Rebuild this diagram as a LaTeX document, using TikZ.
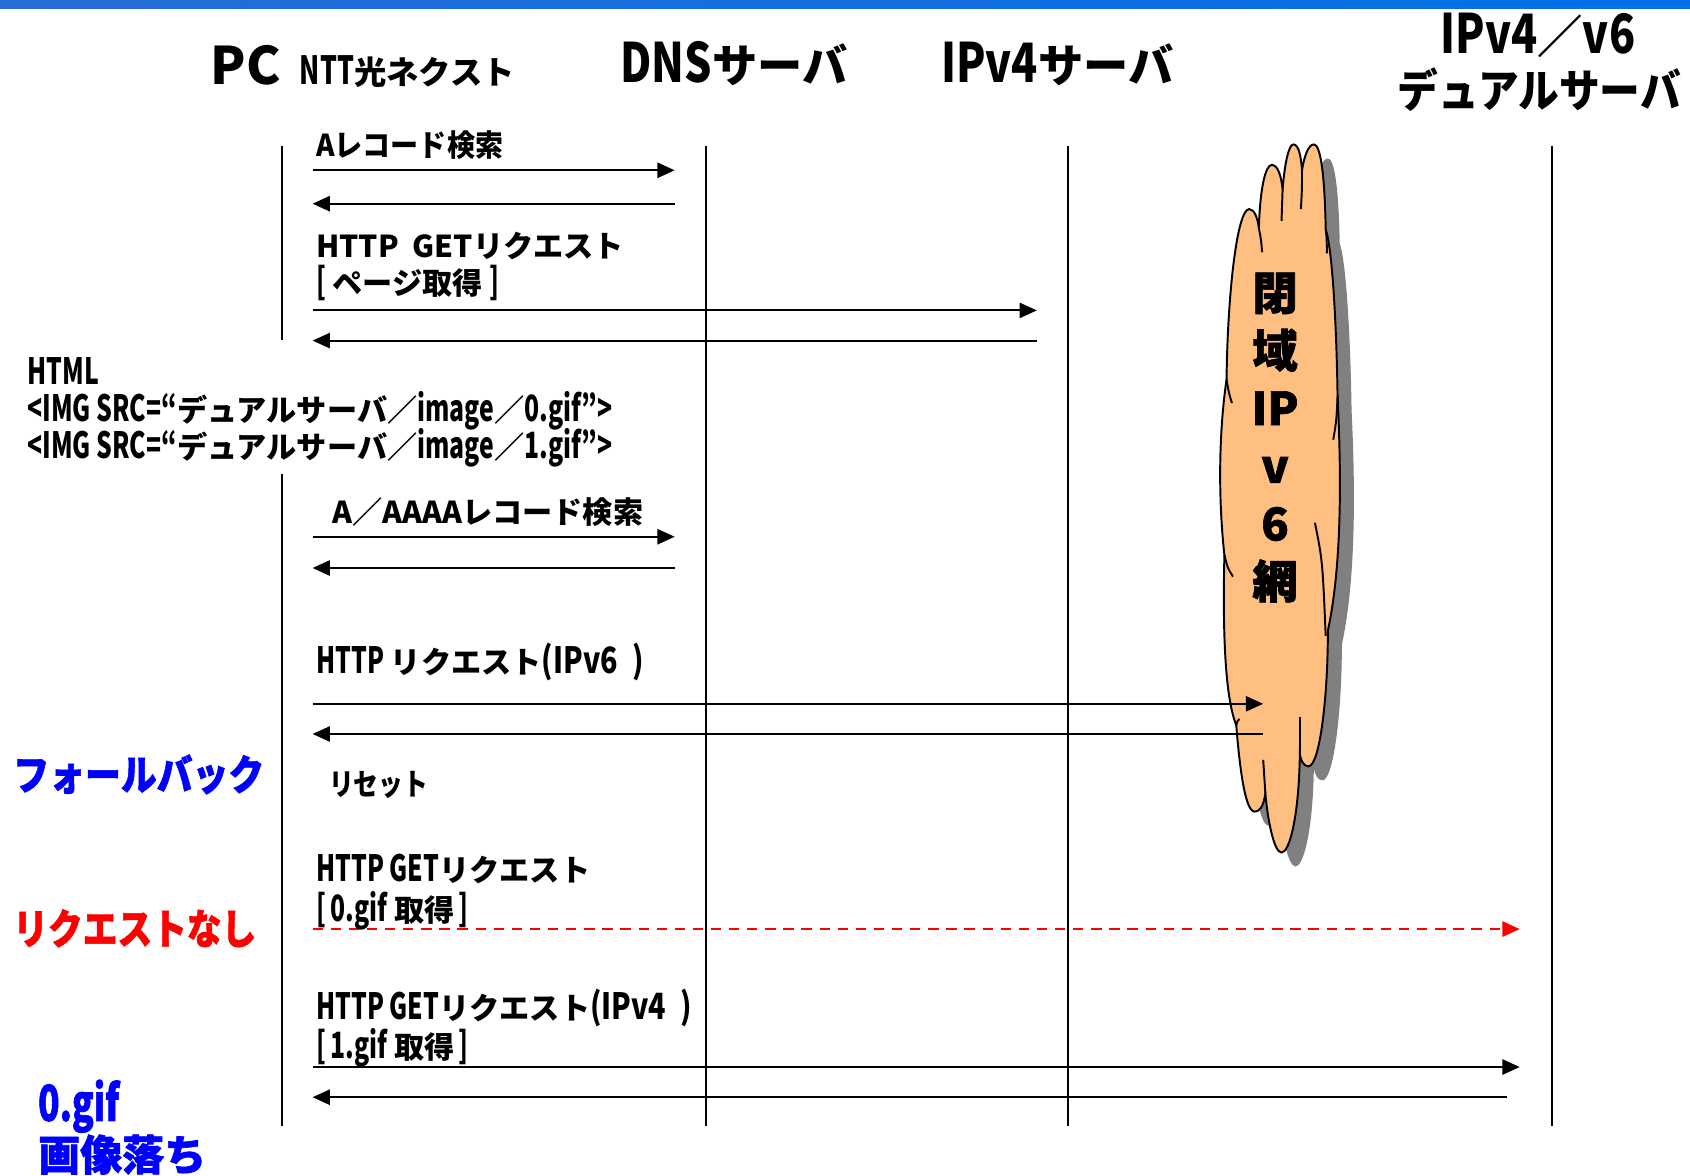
\documentclass[tikz,border=0pt]{standalone}
\usepackage{fontspec}
\setmainfont{Noto Sans CJK JP}
\newfontfamily\heavyfont{Noto Sans CJK JP}[BoldFeatures={FakeBold=1.5}]
\usepackage{graphicx}
\usetikzlibrary{arrows.meta}
\definecolor{cloudfill}{RGB}{255,191,128}
\definecolor{shadowgray}{RGB}{128,128,128}
\definecolor{barA}{RGB}{40,110,215}
\definecolor{barB}{RGB}{0,70,200}
\definecolor{barC}{RGB}{0,112,232}
\definecolor{fbblue}{RGB}{0,0,255}
\definecolor{nored}{RGB}{255,0,0}
\newcommand{\nl}[1]{\scalebox{0.82}[1.2]{#1}}
\newcommand{\pl}[1]{\scalebox{0.95}[1.2]{#1}}
\newcommand{\hl}[1]{\scalebox{0.95}[1.2]{#1}}
\newcommand{\cloudpath}{%
  (1138,352)
  .. controls (1139,270) and (1148,194) .. (1159,194)
  .. controls (1164,194) and (1167,203) .. (1168,212)
  .. controls (1169,175) and (1174,153) .. (1180,153)
  .. controls (1186,153) and (1189,165) .. (1190,176)
  .. controls (1192,150) and (1196,134) .. (1200,134)
  .. controls (1205,134) and (1207,145) .. (1208,158)
  .. controls (1210,145) and (1214,134) .. (1219,134)
  .. controls (1225,134) and (1229,160) .. (1230,213)
  .. controls (1236,230) and (1240,300) .. (1241,368)
  .. controls (1244,430) and (1246,520) .. (1232,585)
  .. controls (1232,650) and (1224,711) .. (1214,711)
  .. controls (1209,711) and (1207,705) .. (1206,700)
  .. controls (1205,760) and (1196,791) .. (1189,791)
  .. controls (1182,791) and (1176,760) .. (1174,736)
  .. controls (1172,750) and (1168,753) .. (1164,753)
  .. controls (1155,753) and (1150,710) .. (1147,673)
  .. controls (1138,650) and (1134,600) .. (1136,515)
  .. controls (1130,460) and (1131,400) .. (1138,352) -- cycle}
\begin{document}
\begin{tikzpicture}[x=0.5pt,y=-0.5pt,
  life/.style={line width=0.9pt},
  msg/.style={line width=1pt,-{Triangle[length=8pt,width=7pt]}},
  rmsg/.style={line width=1pt,dash pattern=on 4.8pt off 3.6pt,nored,-{Triangle[length=8pt,width=7pt]}},
  lbl/.style={anchor=base west,inner sep=0pt,font=\fontsize{14}{16}\selectfont\bfseries},
  head/.style={anchor=base,inner sep=0pt,font=\fontsize{21}{24}\selectfont\bfseries},
  side/.style={anchor=base west,inner sep=0pt,font=\heavyfont\fontsize{17.5}{20}\selectfont\bfseries},
  cloudtxt/.style={align=center,inner sep=0pt,font=\heavyfont\fontsize{21}{26.75}\selectfont\bfseries}]
\useasboundingbox (0,0) rectangle (1568,1091);
\fill[white] (0,0) rectangle (1568,1091);
% top bar
\shade[left color=barA,middle color=barB,right color=barC] (0,0) rectangle (1568,8);

% headers
\node[head,font=\fontsize{24}{26}\selectfont\bfseries] (pc) at (228,78) {PC};
\node[head,font=\fontsize{15}{17}\selectfont\bfseries] (ntt) at (378,78) {\nl{NTT}光ネクスト};
\node[head] (dns) at (681,77) {\hl{DNS}サーバ};
\node[head] (v4) at (981,77) {\hl{IPv4}サーバ};
\node[head] (dual1) at (1427,50) {\hl{IPv4}／\hl{v6}};
\node[head] (dual2) at (1428,100) {\scalebox{0.9}[1]{デュアルサーバ}};

% lifelines
\coordinate (pcA) at (262,135); \coordinate (pcB) at (262,315);
\coordinate (pcC) at (262,440); \coordinate (pcD) at (262,1045);
\coordinate (dnsA) at (655,135); \coordinate (dnsB) at (655,1045);
\coordinate (v4A) at (991,135); \coordinate (v4B) at (991,1045);
\coordinate (duA) at (1440,135); \coordinate (duB) at (1440,1045);
\draw[life] (pcA) -- (pcB);
\draw[life] (pcC) -- (pcD);
\draw[life] (dnsA) -- (dnsB);
\draw[life] (v4A) -- (v4B);
\draw[life] (duA) -- (duB);

% cloud
\fill[shadowgray,shift={(13,13)}] \cloudpath;
\filldraw[fill=cloudfill,draw=black,line width=0.9pt] \cloudpath;
\draw[line width=0.9pt] (1168,212) .. controls (1170,222) .. (1171,234);
\draw[line width=0.9pt] (1190,176) .. controls (1190,190) .. (1189,205);
\draw[line width=0.9pt] (1208,158) .. controls (1208,175) .. (1207,194);
\draw[line width=0.9pt] (1230,213) .. controls (1231,222) .. (1231,235);
\draw[line width=0.9pt] (1241,368) .. controls (1240,390) .. (1237,408);
\draw[line width=0.9pt] (1220,485) .. controls (1227,520) .. (1230,590);
\draw[line width=0.9pt] (1206,700) .. controls (1206,680) .. (1206,665);
\draw[line width=0.9pt] (1174,736) .. controls (1173,720) .. (1172,705);
\draw[line width=0.9pt] (1147,673) .. controls (1148,669) .. (1150,667);
\draw[line width=0.9pt] (1136,515) .. controls (1139,527) .. (1144,535);
\draw[line width=0.9pt] (1138,352) .. controls (1140,364) .. (1143,374);
\node[cloudtxt] (net) at (1183,406) {閉\\域\\IP\\v\\6\\網};

% messages
\coordinate (m1a) at (290,158); \coordinate (m1b) at (626,158);
\coordinate (m2a) at (626,189); \coordinate (m2b) at (290,189);
\coordinate (m3a) at (290,288); \coordinate (m3b) at (962,288);
\coordinate (m4a) at (962,316); \coordinate (m4b) at (290,316);
\coordinate (m5a) at (290,498); \coordinate (m5b) at (626,498);
\coordinate (m6a) at (626,527); \coordinate (m6b) at (290,527);
\coordinate (m7a) at (290,653); \coordinate (m7b) at (1172,653);
\coordinate (m8a) at (1172,681); \coordinate (m8b) at (290,681);
\coordinate (m9a) at (290,862); \coordinate (m9b) at (1410,862);
\coordinate (m10a) at (290,990); \coordinate (m10b) at (1410,990);
\coordinate (m11a) at (1398,1018); \coordinate (m11b) at (290,1018);
\draw[msg] (m1a) -- (m1b);
\draw[msg] (m2a) -- (m2b);
\draw[msg] (m3a) -- (m3b);
\draw[msg] (m4a) -- (m4b);
\draw[msg] (m5a) -- (m5b);
\draw[msg] (m6a) -- (m6b);
\draw[msg] (m7a) -- (m7b);
\draw[msg] (m8a) -- (m8b);
\draw[rmsg] (m9a) -- (m9b);
\draw[msg] (m10a) -- (m10b);
\draw[msg] (m11a) -- (m11b);

% labels
\node[lbl] (l1) at (293,145) {\scalebox{0.93}[1]{Aレコード検索}};
\node[lbl] (l2) at (293,239) {HTTP\ \ GETリクエスト};
\node[lbl] (l3) at (293,273) {\nl{[}\kern3pt ページ取得\kern3pt\nl{]}};
\node[lbl] (h1) at (25,357) {\nl{HTML}};
\node[lbl] (h2) at (25,391) {\nl{<IMG SRC=“}デュアルサーバ／\nl{image}／\nl{0.gif”>}};
\node[lbl] (h3) at (25,425) {\nl{<IMG SRC=“}デュアルサーバ／\nl{image}／\nl{1.gif”>}};
\node[lbl] (l4) at (308,486) {A／AAAAレコード検索};
\node[lbl] (l5) at (293,625) {\nl{HTTP} リクエスト\pl{(IPv6\enspace)}};
\node[lbl] (l6) at (305,738) {\scalebox{0.82}[1]{リセット}};
\node[lbl] (l7) at (293,818) {\nl{HTTP GET}リクエスト};
\node[lbl] (l8) at (293,855) {\nl{[}\kern2pt\nl{0.gif} 取得\kern2pt\nl{]}};
\node[lbl] (l9) at (293,946) {\nl{HTTP GET}リクエスト\pl{(IPv4\enspace)}};
\node[lbl] (l10) at (293,982) {\nl{[}\kern2pt\nl{1.gif} 取得\kern2pt\nl{]}};

% side notes
\node[side,fbblue] (fb) at (12,733) {\scalebox{0.95}[1.1]{フォールバック}};
\node[side,nored] (nr) at (12,876) {\scalebox{0.92}[1.1]{リクエストなし}};
\node[side,fbblue,font=\heavyfont\fontsize{21}{24}\selectfont\bfseries] (g0) at (35,1040) {\scalebox{0.78}[1.1]{0.gif}};
\node[side,fbblue,font=\heavyfont\fontsize{19.5}{22}\selectfont\bfseries] (g1) at (35,1086) {画像落ち};
\end{tikzpicture}
\end{document}
